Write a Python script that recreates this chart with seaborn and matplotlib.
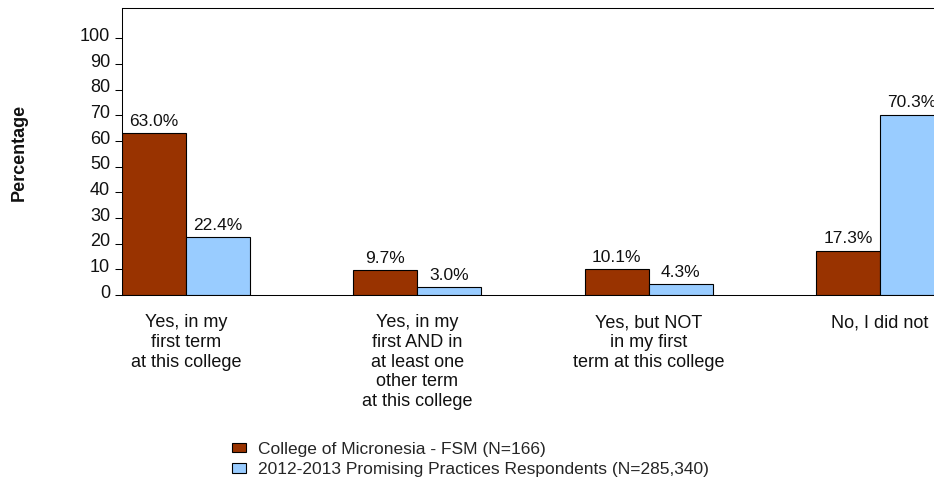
import pandas as pd
import matplotlib as mpl
import matplotlib.pyplot as plt
import seaborn as sns

categories = ["Yes, in my\nfirst term\nat this college",
              "Yes, in my\nfirst AND in\nat least one\nother term\nat this college",
              "Yes, but NOT\nin my first\nterm at this college",
              "No, I did not"]
series = ["College of Micronesia - FSM (N=166)",
          "2012-2013 Promising Practices Respondents (N=285,340)"]
college = [63.0, 9.7, 10.1, 17.3]
promising = [22.4, 3.0, 4.3, 70.3]
colors = ["#993300", "#99CCFF"]
yticks = [0, 10, 20, 30, 40, 50, 60, 70, 80, 90, 100]

df = pd.DataFrame({"Response": categories * 2,
                   "Group": [series[0]] * 4 + [series[1]] * 4,
                   "Pct": college + promising})

sns.set_style("ticks")
plt.rcParams["font.family"] = ["Liberation Sans", "DejaVu Sans"]
mpl.rcParams["axes.edgecolor"] = "black"
mpl.rcParams["axes.linewidth"] = 0.75

fig = plt.figure(figsize = (9.34, 4.84), dpi = 100)
ax = fig.add_axes([122 / 934, 189 / 484, 822 / 934, 287 / 484])

sns.barplot(data = df, x = "Response", y = "Pct", hue = "Group", palette = colors,
            width = 0.554, gap = 0, saturation = 1, edgecolor = "black", linewidth = 0.8, ax = ax)

for cont in ax.containers:
    ax.bar_label(cont, fmt = "%.1f%%", padding = 3, fontsize = 12.5, color = "#111111")

ax.set_xlim(-0.277, 3.277)
ax.set_ylim(0, 111.8)
ax.set_yticks(yticks)
ax.set_xlabel("")
ax.set_ylabel("")
ax.tick_params(axis = "x", length = 0, pad = 14, labelsize = 13, colors = "#111111")
ax.tick_params(axis = "y", length = 5, width = 0.75, pad = 3.5, labelsize = 13, colors = "black", labelcolor = "#111111")
off = mpl.transforms.ScaledTranslation(0, -1.9 / 72, fig.dpi_scale_trans)
for lab in ax.get_yticklabels():
    lab.set_va("baseline")
    lab.set_transform(lab.get_transform() + off)

fig.text(19 / 934, 1 - 152 / 484, "Percentage", rotation = 90, fontsize = 13, fontweight = "bold",
         ha = "center", va = "center", color = "#111111")

handles, labels = ax.get_legend_handles_labels()
ax.get_legend().remove()
fig.legend(handles, labels, loc = "upper left", bbox_to_anchor = (232 / 934, 1 - 442 / 484),
           frameon = False, fontsize = 12.5, handlelength = 0.8, handleheight = 0.45,
           handletextpad = 0.7, labelspacing = 0.3, borderpad = 0, borderaxespad = 0)

fig.savefig("out.png", dpi = 100)
